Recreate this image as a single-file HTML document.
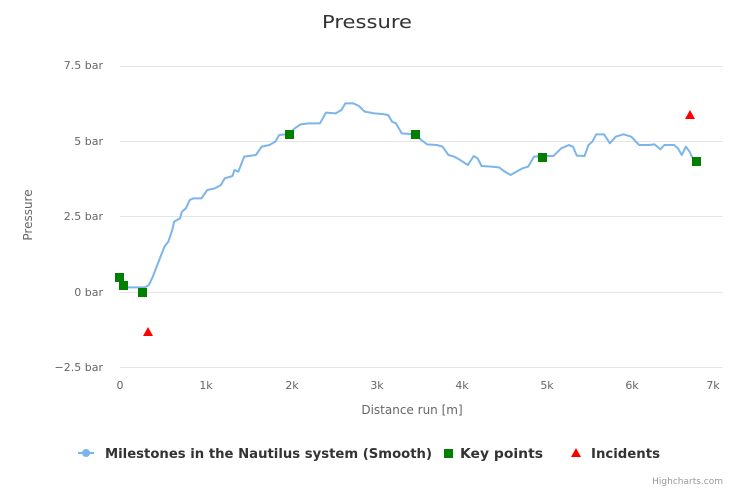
<!DOCTYPE html>
<html><head><meta charset="utf-8"><style>
html,body{margin:0;padding:0;background:#fff;}
svg text{font-family:"DejaVu Sans","Liberation Sans",sans-serif;}
</style></head><body>
<svg width="735" height="490" viewBox="0 0 735 490" xmlns="http://www.w3.org/2000/svg">
<rect width="735" height="490" fill="#fff"/>
<text x="367" y="28" text-anchor="middle" font-size="18" fill="#333" textLength="90" lengthAdjust="spacingAndGlyphs">Pressure</text>
<g stroke="#e6e6e6" stroke-width="1">
<line x1="120" x2="723" y1="66.5" y2="66.5"/>
<line x1="120" x2="723" y1="141.5" y2="141.5"/>
<line x1="120" x2="723" y1="216.5" y2="216.5"/>
<line x1="120" x2="723" y1="292.5" y2="292.5"/>
<line x1="120" x2="723" y1="367.5" y2="367.5"/>
</g>
<g font-size="11" fill="#666" text-anchor="end">
<text x="103" y="69">7.5 bar</text>
<text x="103" y="145">5 bar</text>
<text x="103" y="220">2.5 bar</text>
<text x="103" y="296">0 bar</text>
<text x="103" y="371">−2.5 bar</text>
</g>
<g font-size="11" fill="#666" text-anchor="middle">
<text x="120" y="389">0</text>
<text x="206" y="389">1k</text>
<text x="292" y="389">2k</text>
<text x="377" y="389">3k</text>
<text x="462" y="389">4k</text>
<text x="547" y="389">5k</text>
<text x="632" y="389">6k</text>
<text x="713" y="389">7k</text>
</g>
<text x="412" y="414" text-anchor="middle" font-size="12" fill="#666">Distance run [m]</text>
<text transform="translate(32,215) rotate(-90)" text-anchor="middle" font-size="12" fill="#666">Pressure</text>
<g transform="translate(110,90) scale(0.389,0.3333)">
<polyline fill="none" stroke="#7cb5ec" stroke-width="2" vector-effect="non-scaling-stroke" stroke-linejoin="round" points="25,590 45,592 90,592 100,585 110,560 120,530 130,500 140,470 150,455 160,420 165,395 180,385 185,365 195,355 205,330 215,325 235,325 250,300 270,295 285,285 295,265 315,258 320,240 330,245 345,200 375,195 390,170 410,165 425,155 435,135 460,132 475,115 490,103 510,100 540,100 555,68 580,70 595,60 605,40 625,40 640,48 655,65 680,70 700,72 715,75 725,95 735,100 750,130 785,133 800,150 815,163 840,165 855,170 870,195 885,200 900,210 920,225 935,198 945,205 955,228 980,230 1000,232 1015,245 1030,255 1045,245 1060,235 1075,230 1090,200 1110,198 1140,198 1160,175 1180,165 1190,170 1200,197 1220,198 1230,165 1240,155 1250,133 1270,133 1285,160 1300,140 1320,133 1340,140 1360,165 1385,165 1400,163 1415,178 1425,165 1450,165 1460,175 1470,195 1480,170 1490,185 1500,210"/>
</g>
<g fill="#007f00">
<rect x="115" y="273" width="9" height="9"/>
<rect x="119" y="281" width="9" height="9"/>
<rect x="138" y="288" width="9" height="9"/>
<rect x="285" y="130" width="9" height="9"/>
<rect x="411" y="130" width="9" height="9"/>
<rect x="538" y="153" width="9" height="9"/>
<rect x="692" y="157" width="9" height="9"/>
</g>
<g fill="#ff0000">
<polygon points="148,327 153,336 143,336"/>
<polygon points="690,110 695,119 685,119"/>
</g>
<g font-size="13" font-weight="bold" fill="#333">
<line x1="78" x2="94" y1="453" y2="453" stroke="#7cb5ec" stroke-width="2"/>
<circle cx="86" cy="453" r="4" fill="#7cb5ec"/>
<text x="105" y="458" textLength="327" lengthAdjust="spacingAndGlyphs">Milestones in the Nautilus system (Smooth)</text>
<rect x="444" y="449" width="9" height="9" fill="#007f00"/>
<text x="460" y="458" textLength="83" lengthAdjust="spacingAndGlyphs">Key points</text>
<polygon points="576,448 581,457 571,457" fill="#ff0000"/>
<text x="591" y="458" textLength="69" lengthAdjust="spacingAndGlyphs">Incidents</text>
</g>
<text x="723" y="484" text-anchor="end" font-size="9" fill="#999">Highcharts.com</text>
</svg>
</body></html>
